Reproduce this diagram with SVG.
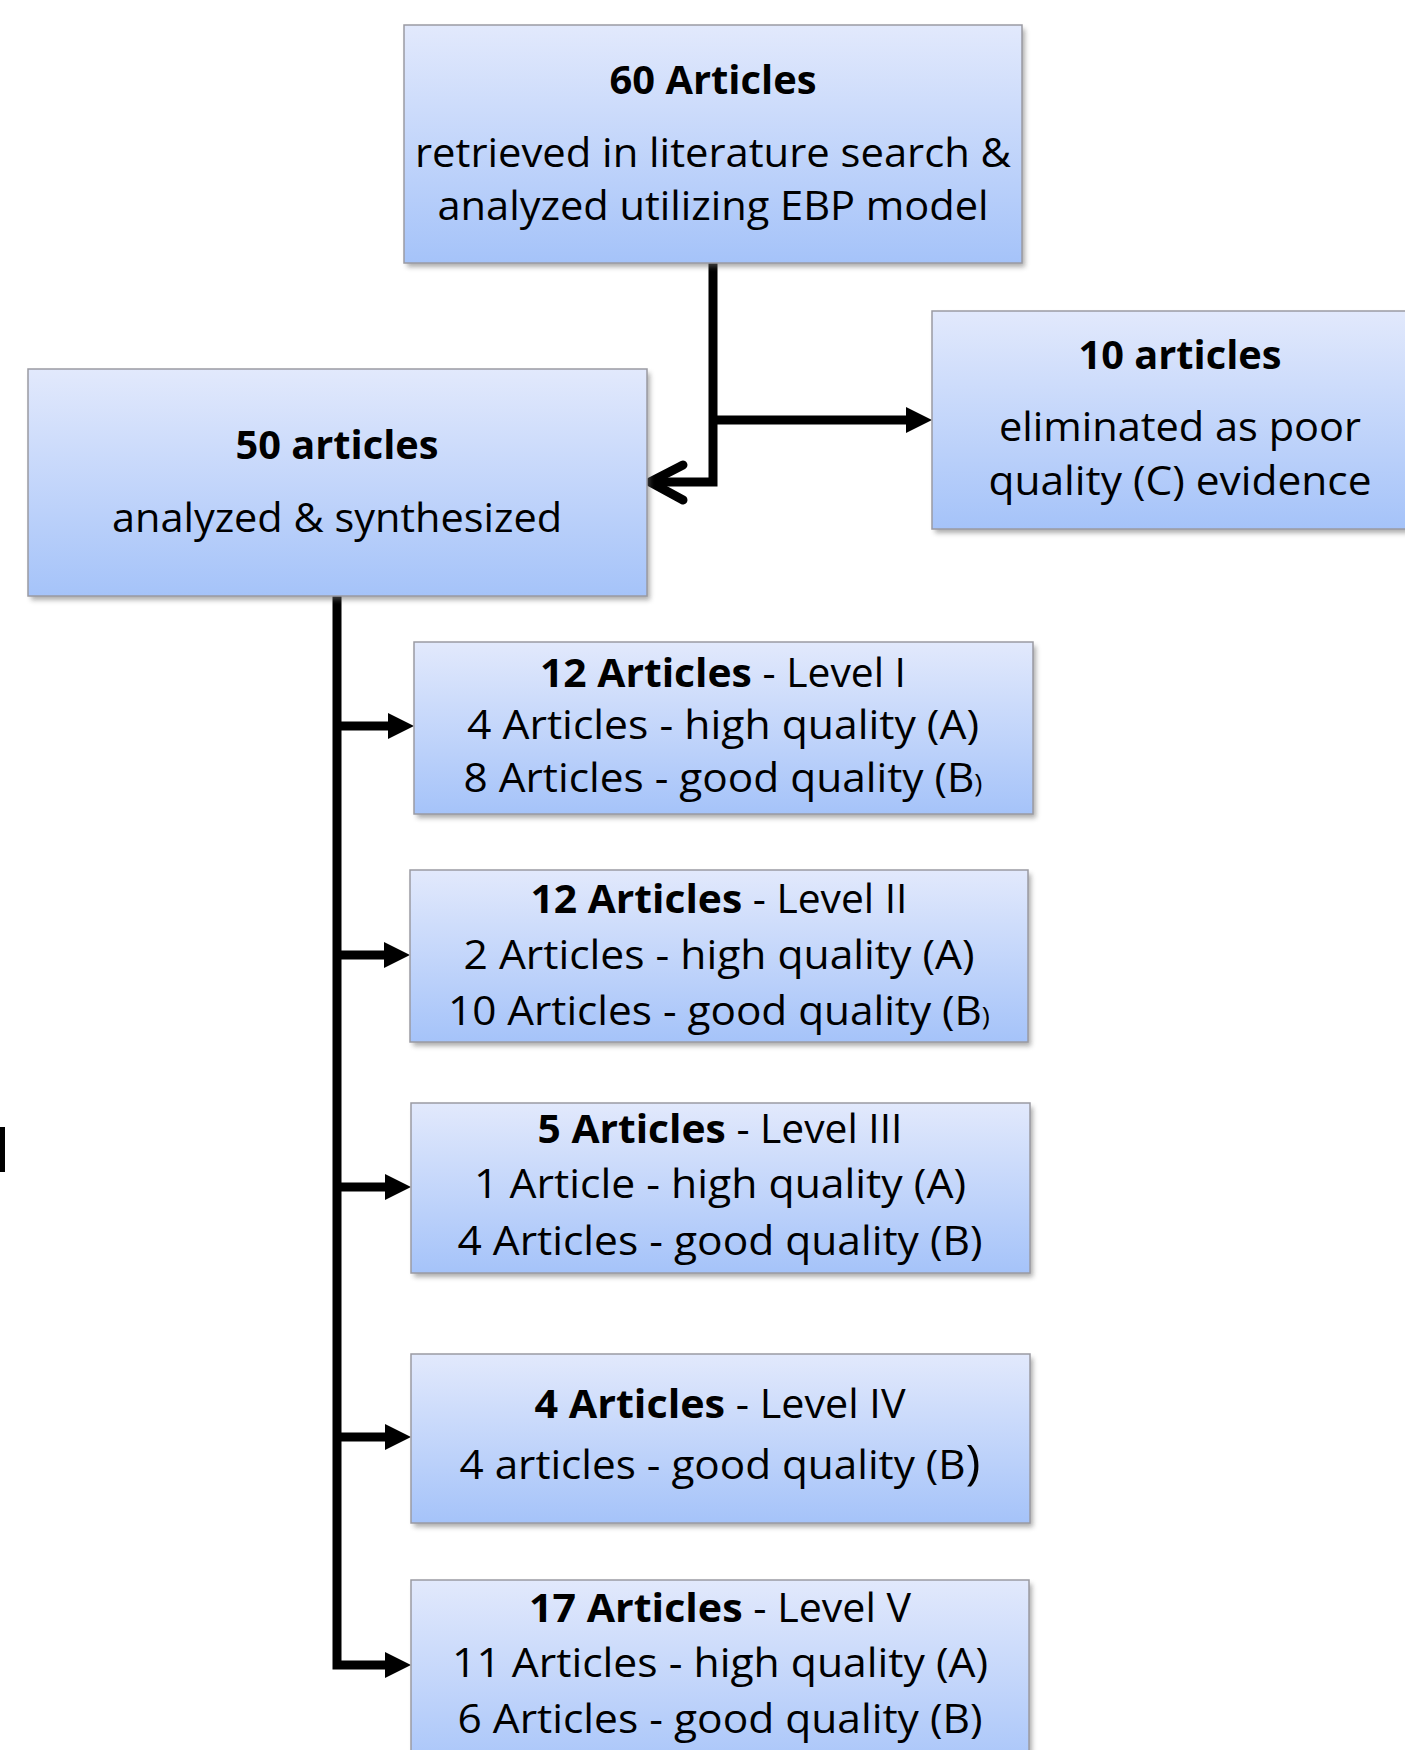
<svg xmlns="http://www.w3.org/2000/svg" width="1405" height="1750" viewBox="0 0 1405 1750">
<style>
.box{fill:url(#g);stroke:#9a9aa2;stroke-width:1.5}
.sh{fill:#6b6b6b;opacity:0.55;filter:url(#blur)}
text{font-family:"Open Sans","Noto Sans","Liberation Sans",sans-serif;font-size:40px;fill:#000;text-anchor:middle}
.b{font-weight:bold}
.ln{fill:none;stroke:#000;stroke-width:9;stroke-linejoin:miter}
</style>
<defs>
<linearGradient id="g" x1="0" y1="0" x2="0" y2="1">
<stop offset="0" stop-color="#e2e9fc"/>
<stop offset="1" stop-color="#a5c3f9"/>
</linearGradient>
<filter id="blur" x="-5%" y="-5%" width="110%" height="120%"><feGaussianBlur stdDeviation="2.5"/></filter>
<marker id="tri" viewBox="0 0 26 26" markerWidth="26" markerHeight="26" refX="0" refY="13" orient="auto" markerUnits="userSpaceOnUse">
<path d="M0,0 L26,13 L0,26 Z" fill="#000"/>
</marker>
</defs>

<g id="connectors">
<path class="ln" d="M713,263 V482 H652"/>
<path d="M683,465 L650,482 L683,500" fill="none" stroke="#000" stroke-width="9" stroke-linecap="round" stroke-linejoin="round"/>
<path class="ln" d="M713,420 H906" marker-end="url(#tri)"/>
<path class="ln" d="M337,596 V1665 H385" marker-end="url(#tri)"/>
<path class="ln" d="M337,726 H388" marker-end="url(#tri)"/>
<path class="ln" d="M337,955 H384" marker-end="url(#tri)"/>
<path class="ln" d="M337,1187 H385" marker-end="url(#tri)"/>
<path class="ln" d="M337,1437 H385" marker-end="url(#tri)"/>
</g>

<rect id="stray-mark" x="0" y="1127" width="5" height="45" fill="#000"/>

<g id="node-60">
<rect class="sh" x="407" y="29" width="618" height="238"/>
<rect class="box" x="404" y="25" width="618" height="238"/>
<text x="713" y="94" class="b" textLength="207" lengthAdjust="spacingAndGlyphs">60 Articles</text>
<text x="713" y="167" textLength="596" lengthAdjust="spacingAndGlyphs">retrieved in literature search &amp;</text>
<text x="713" y="220" textLength="551" lengthAdjust="spacingAndGlyphs">analyzed utilizing EBP model</text>
</g>

<g id="node-10">
<rect class="sh" x="935" y="315" width="500" height="218"/>
<rect class="box" x="932" y="311" width="500" height="218"/>
<text x="1180" y="369" class="b" textLength="203" lengthAdjust="spacingAndGlyphs">10 articles</text>
<text x="1180" y="441" textLength="362" lengthAdjust="spacingAndGlyphs">eliminated as poor</text>
<text x="1180" y="495" textLength="383" lengthAdjust="spacingAndGlyphs">quality (C) evidence</text>
</g>

<g id="node-50">
<rect class="sh" x="31" y="373" width="619" height="227"/>
<rect class="box" x="28" y="369" width="619" height="227"/>
<text x="337" y="459" class="b" textLength="203" lengthAdjust="spacingAndGlyphs">50 articles</text>
<text x="337" y="532" textLength="450" lengthAdjust="spacingAndGlyphs">analyzed &amp; synthesized</text>
</g>

<g id="node-level1">
<rect class="sh" x="417" y="646" width="619" height="172"/>
<rect class="box" x="414" y="642" width="619" height="172"/>
<text x="723" y="687" textLength="366" lengthAdjust="spacingAndGlyphs"><tspan class="b">12 Articles</tspan> - Level I</text>
<text x="723" y="739" textLength="512" lengthAdjust="spacingAndGlyphs">4 Articles - high quality (A)</text>
<text x="723" y="792" textLength="519" lengthAdjust="spacingAndGlyphs">8 Articles - good quality (B<tspan font-size="26">)</tspan></text>
</g>

<g id="node-level2">
<rect class="sh" x="413" y="874" width="618" height="172"/>
<rect class="box" x="410" y="870" width="618" height="172"/>
<text x="719" y="913" textLength="377" lengthAdjust="spacingAndGlyphs"><tspan class="b">12 Articles</tspan> - Level II</text>
<text x="719" y="969" textLength="511" lengthAdjust="spacingAndGlyphs">2 Articles - high quality (A)</text>
<text x="719" y="1025" textLength="542" lengthAdjust="spacingAndGlyphs">10 Articles - good quality (B<tspan font-size="26">)</tspan></text>
</g>

<g id="node-level3">
<rect class="sh" x="414" y="1107" width="619" height="170"/>
<rect class="box" x="411" y="1103" width="619" height="170"/>
<text x="720" y="1143" textLength="365" lengthAdjust="spacingAndGlyphs"><tspan class="b">5 Articles</tspan> - Level III</text>
<text x="720" y="1198" textLength="492" lengthAdjust="spacingAndGlyphs">1 Article - high quality (A)</text>
<text x="720" y="1255" textLength="525" lengthAdjust="spacingAndGlyphs">4 Articles - good quality (B)</text>
</g>

<g id="node-level4">
<rect class="sh" x="414" y="1358" width="619" height="169"/>
<rect class="box" x="411" y="1354" width="619" height="169"/>
<text x="720" y="1418" textLength="371" lengthAdjust="spacingAndGlyphs"><tspan class="b">4 Articles</tspan> - Level IV</text>
<text x="720" y="1479" textLength="521" lengthAdjust="spacingAndGlyphs">4 articles - good quality (B<tspan font-size="48">)</tspan></text>
</g>

<g id="node-level5">
<rect class="sh" x="414" y="1584" width="618" height="200"/>
<rect class="box" x="411" y="1580" width="618" height="200"/>
<text x="720" y="1622" textLength="382" lengthAdjust="spacingAndGlyphs"><tspan class="b">17 Articles</tspan> - Level V</text>
<text x="720" y="1677" textLength="536" lengthAdjust="spacingAndGlyphs">11 Articles - high quality (A)</text>
<text x="720" y="1733" textLength="525" lengthAdjust="spacingAndGlyphs">6 Articles - good quality (B)</text>
</g>
</svg>
